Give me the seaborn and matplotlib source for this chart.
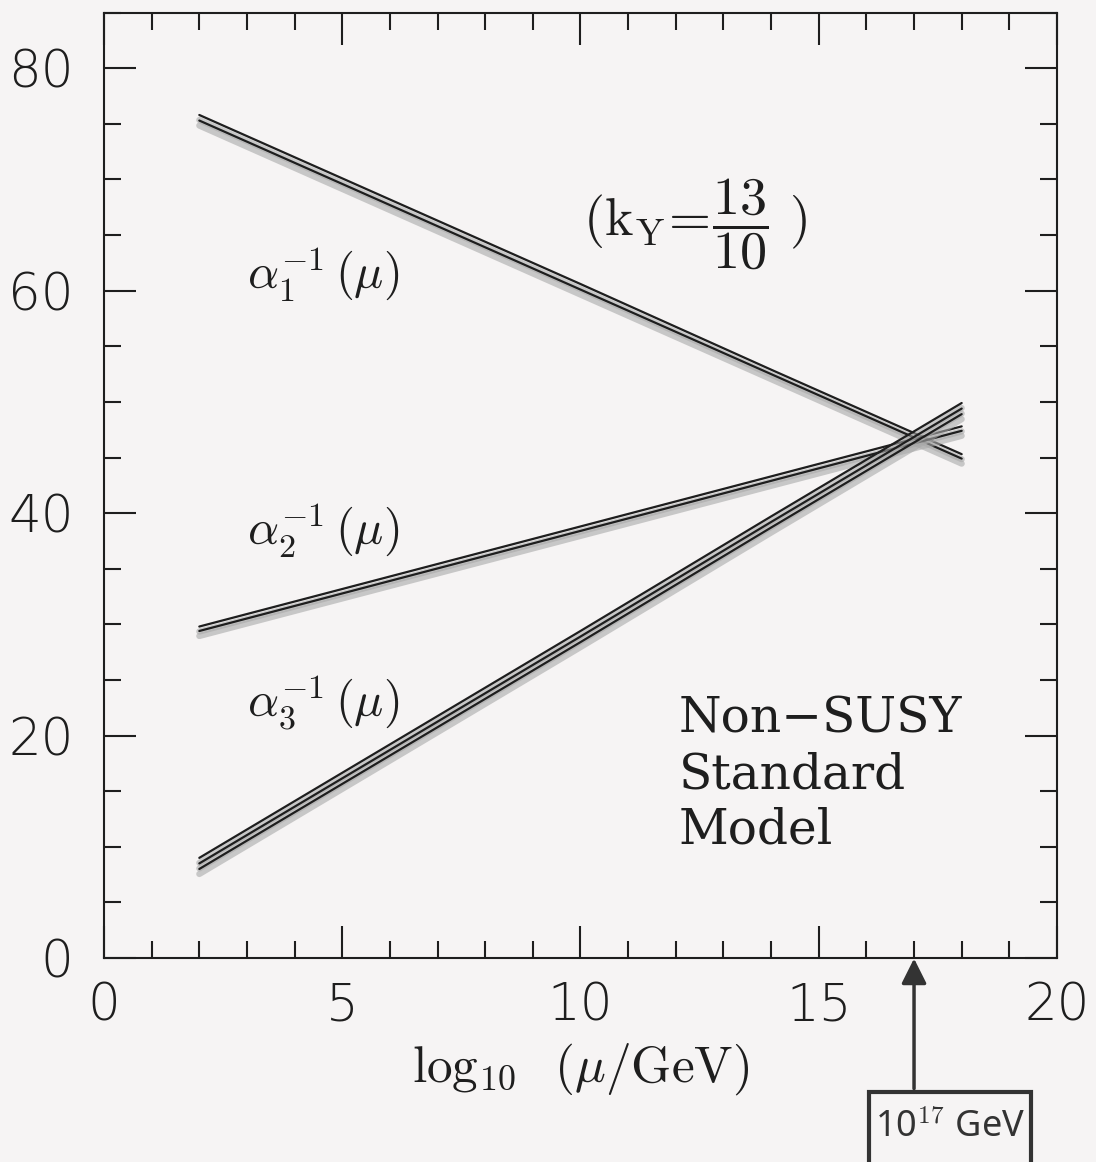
import numpy as np
import pandas as pd
import seaborn as sns
import matplotlib.pyplot as plt
from matplotlib.patches import Rectangle
from matplotlib.ticker import MultipleLocator

# log10(mu/GeV) sample points
log_mu = [2, 6, 10, 14, 18]

# alpha_1^-1 (two strands)
alpha1_a = [75.8, 68.2, 60.6, 52.9, 45.3]
alpha1_b = [75.3, 67.7, 60.1, 52.5, 44.9]
# alpha_2^-1 (two strands)
alpha2_a = [29.8, 34.3, 38.8, 43.3, 47.8]
alpha2_b = [29.4, 33.9, 38.4, 42.9, 47.4]
# alpha_3^-1 (three strands)
alpha3_a = [9.0, 19.2, 29.4, 39.7, 49.9]
alpha3_b = [8.5, 18.7, 28.9, 39.2, 49.4]
alpha3_c = [8.0, 18.2, 28.4, 38.7, 48.9]

bundles = {
    "a1": [alpha1_a, alpha1_b],
    "a2": [alpha2_a, alpha2_b],
    "a3": [alpha3_a, alpha3_b, alpha3_c],
}

curve_labels = [r"$\alpha_1^{-1}\,(\mu)$", r"$\alpha_2^{-1}\,(\mu)$", r"$\alpha_3^{-1}\,(\mu)$"]
curve_label_y = [61.5, 38.5, 23.0]
model_lines = ["Non\u2212SUSY", "Standard", "Model"]

sns.set_theme(style="ticks")
plt.rcParams["mathtext.fontset"] = "cm"
plt.rcParams["font.family"] = ["DejaVu Sans"]

paper = "#f6f4f4"
ink = "#1e1e1e"

fig = plt.figure(figsize=(10.96, 11.62), dpi=100, facecolor=paper)
ax = fig.add_axes([0.0949, 0.1756, 0.8695, 0.8135])
ax.set_facecolor(paper)

for name, strands in bundles.items():
    # grey toner shadow under each bundle
    for s in strands:
        df = pd.DataFrame({"x": log_mu, "y": np.array(s) - 0.45})
        sns.lineplot(data=df, x="x", y="y", ax=ax, color="#a9a9a9", lw=4.5, alpha=0.6)
    for s in strands:
        df = pd.DataFrame({"x": log_mu, "y": s})
        sns.lineplot(data=df, x="x", y="y", ax=ax, color=ink, lw=1.6)

ax.set_xlim(0, 20)
ax.set_ylim(0, 85)
ax.xaxis.set_major_locator(MultipleLocator(5))
ax.xaxis.set_minor_locator(MultipleLocator(1))
ax.yaxis.set_major_locator(MultipleLocator(20))
ax.yaxis.set_minor_locator(MultipleLocator(5))
ax.tick_params(which="both", direction="in", top=True, right=True, color=ink, width=1.5)
ax.tick_params(which="major", length=23)
ax.tick_params(which="minor", length=12)
ax.tick_params(axis="x", which="major", pad=17, labelsize=37, labelcolor=ink)
ax.tick_params(axis="y", which="major", pad=22, labelsize=37, labelcolor=ink)
for lab in ax.get_xticklabels() + ax.get_yticklabels():
    lab.set_fontweight("light")
for sp in ax.spines.values():
    sp.set_linewidth(1.5)
    sp.set_color(ink)

ax.set_xlabel(r"$\log_{10}\;\ (\mu/\mathrm{GeV})$", fontsize=37, color=ink)
ax.xaxis.set_label_coords(0.5, -0.088)
ax.set_ylabel("")

for lab, yy in zip(curve_labels, curve_label_y):
    ax.text(3.0, yy, lab, fontsize=35, color=ink, ha="left", va="center")
ax.text(12.4, 66.0, r"$(\mathrm{k_Y}\!=\!\dfrac{13}{10}\ )$", fontsize=39, color=ink,
        ha="center", va="center")
for i, line in enumerate(model_lines):
    ax.text(12.06, 20.25 - 5.0 * i, line, fontsize=35, color=ink, family="DejaVu Serif",
            ha="left", va="baseline")

# hand-drawn marker below the axis
ax.annotate("", xy=(17, 0.2), xytext=(17, -12.0), annotation_clip=False,
            arrowprops=dict(arrowstyle="-|>", lw=2.5, color="#333333", mutation_scale=38))
ax.add_patch(Rectangle((16.05, -20.0), 3.4, 7.95, fill=False, ec="#333333", lw=3,
                       clip_on=False))
ax.text(17.75, -15.4, r"10$^{17}$ GeV", fontsize=26, color="#333333", family="Noto Sans",
        ha="center", va="center", clip_on=False)

fig.savefig("out.png", dpi=100, facecolor=paper)
